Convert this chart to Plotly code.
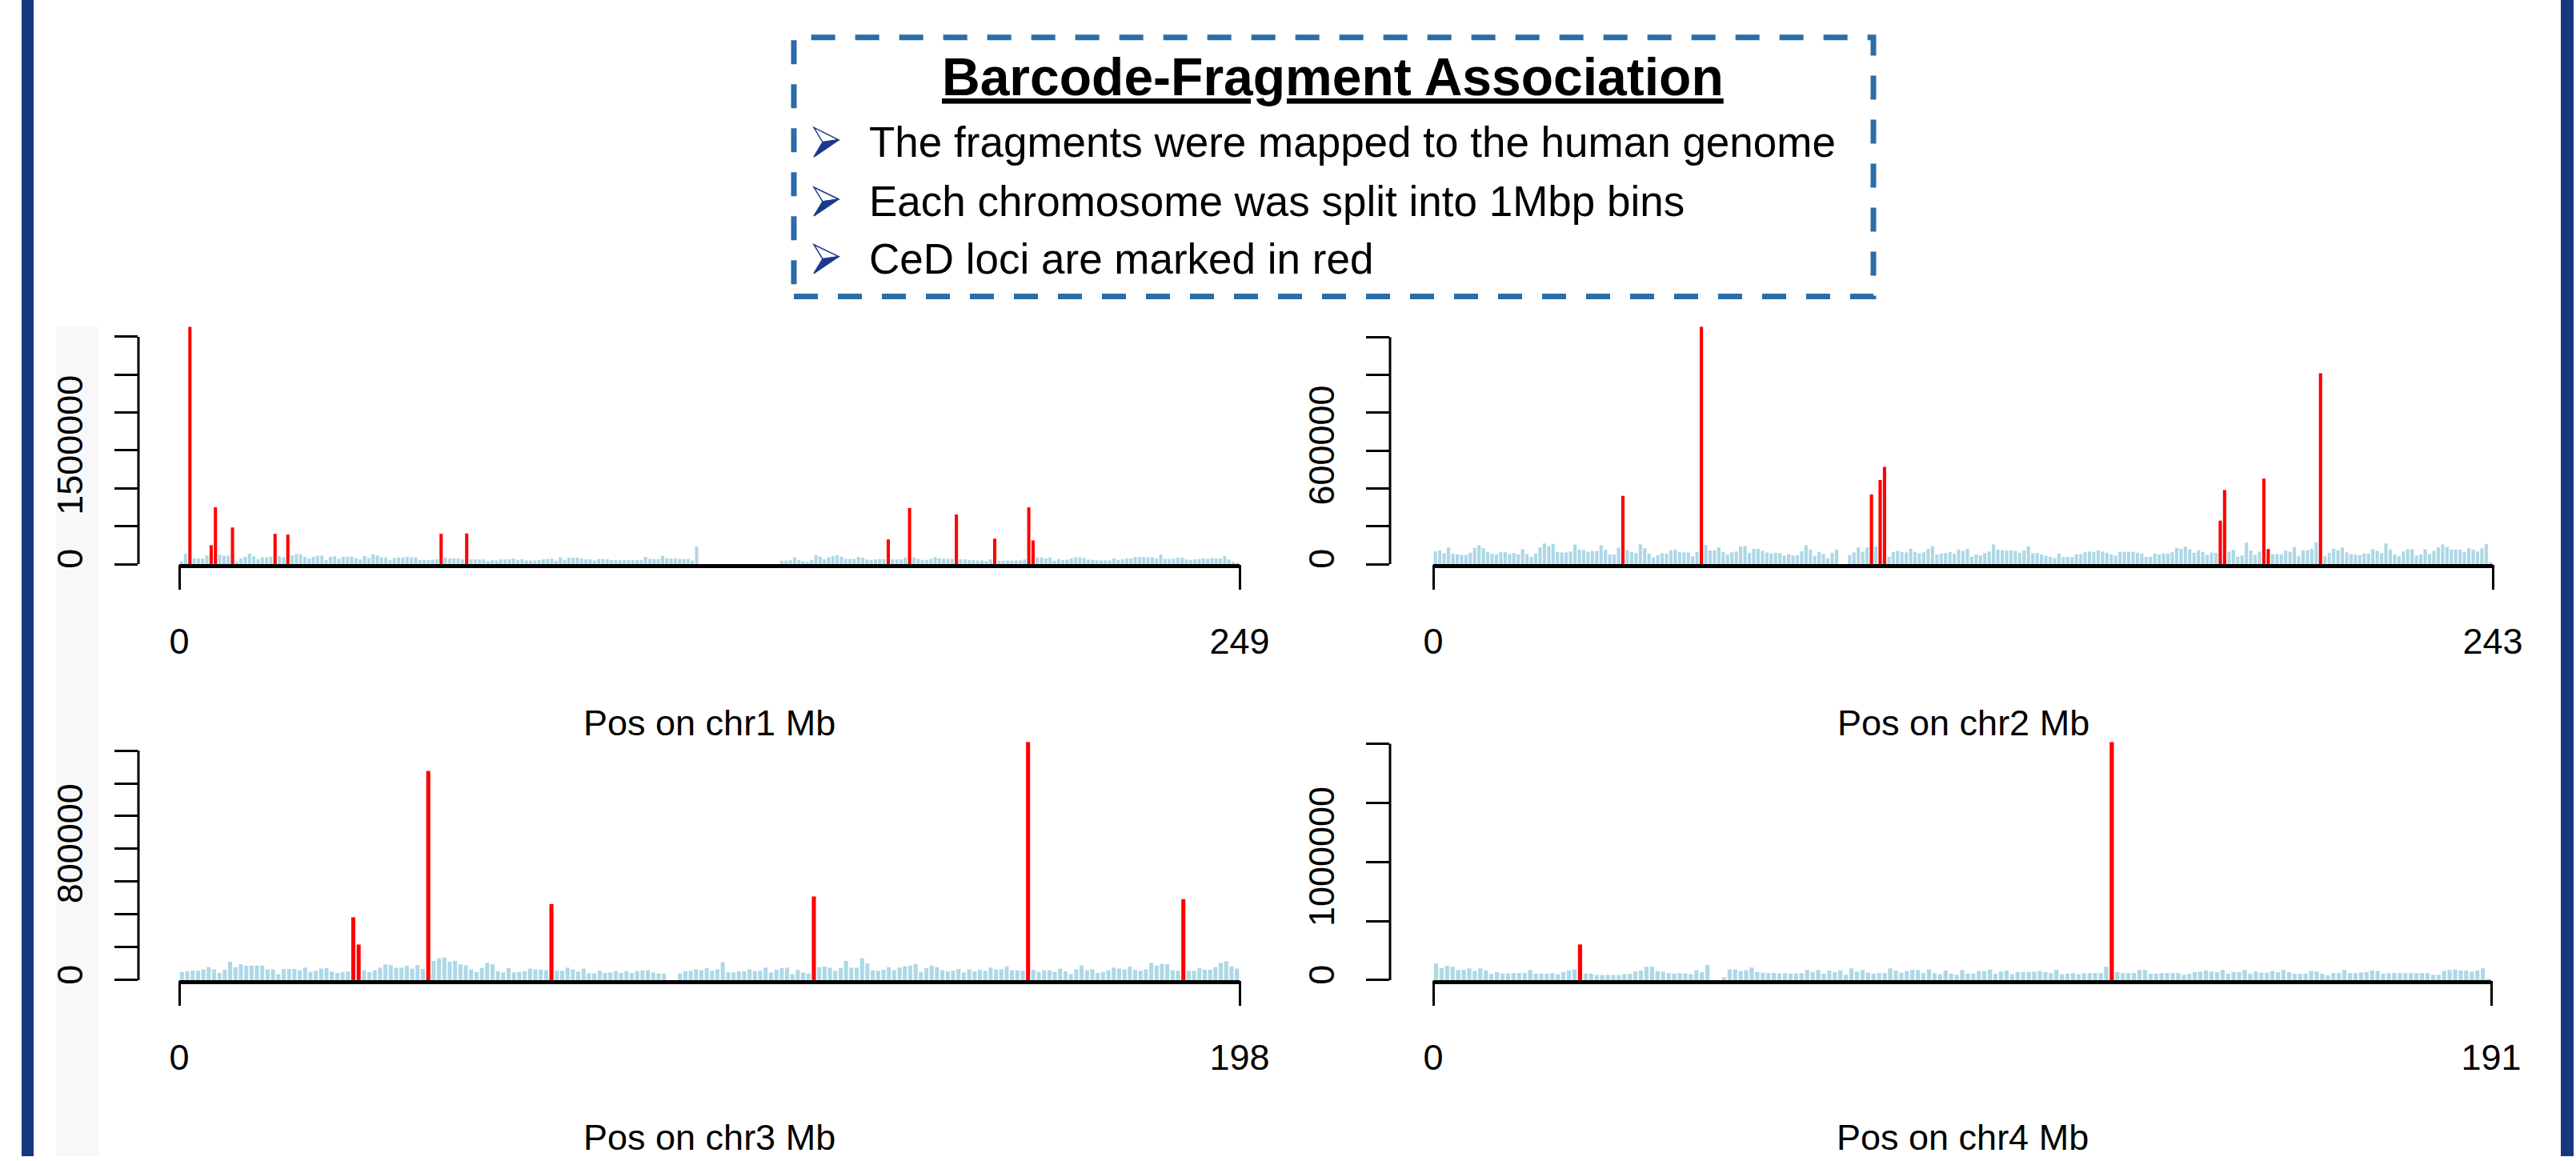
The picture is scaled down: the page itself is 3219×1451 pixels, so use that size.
import plotly.graph_objects as go

# ---------------- data (reads per 1 Mbp bin, in thousands) ----------------
chr1_counts_k = [
    35, 140, 3133, 74, 74, 74, 116, 250, 750, 126,
    112, 112, 484, 35, 74, 98, 140, 105, 63, 91,
    91, 98, 400, 105, 91, 390, 116, 133, 133, 98,
    74, 98, 112, 112, 53, 98, 105, 70, 98, 98,
    98, 81, 63, 109, 81, 130, 112, 91, 88, 53,
    81, 88, 88, 98, 91, 91, 53, 53, 53, 60,
    63, 400, 88, 74, 74, 74, 63, 405, 63, 63,
    63, 63, 42, 53, 49, 63, 63, 63, 74, 56,
    67, 49, 49, 49, 53, 63, 70, 70, 46, 91,
    56, 84, 84, 84, 74, 67, 63, 49, 67, 67,
    67, 53, 53, 53, 53, 53, 53, 53, 53, 95,
    70, 67, 67, 109, 77, 74, 74, 67, 67, 70,
    49, 232, 0, 0, 0, 0, 0, 0, 0, 0,
    0, 0, 0, 0, 0, 0, 0, 0, 0, 0,
    0, 46, 46, 53, 91, 53, 39, 28, 53, 119,
    98, 63, 91, 105, 119, 98, 70, 70, 70, 95,
    84, 63, 56, 63, 67, 67, 326, 63, 63, 63,
    88, 740, 88, 70, 56, 56, 70, 91, 77, 70,
    70, 70, 655, 63, 63, 53, 53, 49, 49, 42,
    63, 337, 46, 46, 46, 46, 49, 49, 63, 750,
    313, 88, 88, 77, 88, 46, 67, 53, 60, 77,
    91, 91, 81, 60, 56, 49, 49, 49, 49, 77,
    56, 67, 74, 77, 95, 95, 95, 91, 91, 74,
    126, 70, 70, 70, 88, 84, 63, 56, 63, 70,
    77, 70, 77, 77, 77, 105, 63, 28, 20,
]
chr2_counts_k = [
    67, 72, 58, 88, 56, 51, 49, 49, 60, 86,
    100, 84, 65, 55, 51, 63, 63, 53, 59, 51,
    79, 53, 39, 56, 88, 109, 95, 107, 65, 62,
    62, 67, 104, 77, 74, 65, 70, 70, 100, 76,
    51, 51, 87, 361, 74, 65, 59, 105, 84, 56,
    36, 48, 58, 56, 74, 77, 63, 62, 62, 42,
    63, 1255, 102, 73, 73, 88, 65, 51, 62, 67,
    93, 95, 60, 81, 81, 70, 62, 56, 59, 58,
    45, 53, 46, 48, 67, 100, 77, 44, 65, 53,
    31, 59, 77, 0, 0, 49, 62, 88, 65, 88,
    368, 93, 445, 514, 39, 65, 70, 63, 62, 81,
    65, 58, 63, 81, 95, 51, 56, 59, 65, 55,
    77, 70, 81, 39, 51, 46, 59, 67, 105, 76,
    74, 73, 72, 70, 60, 72, 95, 58, 60, 51,
    44, 39, 32, 56, 38, 38, 38, 53, 53, 63,
    67, 63, 73, 67, 60, 51, 45, 65, 65, 66,
    65, 60, 56, 39, 39, 56, 51, 56, 56, 63,
    86, 81, 93, 79, 60, 73, 65, 49, 62, 60,
    230, 392, 67, 76, 39, 46, 114, 72, 49, 66,
    452, 80, 53, 53, 52, 72, 66, 91, 42, 72,
    74, 81, 116, 1009, 42, 60, 81, 74, 88, 62,
    53, 51, 48, 56, 56, 79, 70, 59, 109, 77,
    51, 42, 67, 79, 79, 45, 51, 79, 53, 70,
    88, 104, 91, 77, 77, 77, 65, 84, 77, 67,
    84, 107, 10,
]
chr3_counts_k = [
    49, 54, 57, 57, 65, 79, 65, 44, 63, 112,
    79, 96, 88, 88, 88, 88, 65, 65, 36, 68,
    68, 68, 60, 76, 50, 57, 70, 73, 52, 44,
    49, 52, 383, 217, 60, 49, 60, 76, 96, 92,
    76, 76, 88, 70, 92, 68, 1276, 117, 133, 138,
    112, 118, 96, 89, 65, 49, 73, 105, 96, 55,
    47, 73, 47, 50, 54, 70, 65, 63, 60, 464,
    58, 58, 76, 65, 52, 70, 42, 42, 57, 44,
    47, 55, 44, 55, 44, 55, 60, 60, 47, 41,
    39, 0, 0, 41, 54, 57, 66, 60, 73, 57,
    66, 109, 47, 47, 54, 54, 66, 54, 57, 76,
    47, 63, 73, 76, 37, 63, 47, 41, 510, 79,
    83, 76, 57, 73, 117, 76, 76, 133, 101, 60,
    57, 63, 79, 60, 76, 84, 88, 99, 50, 73,
    89, 79, 60, 54, 57, 68, 47, 65, 54, 63,
    57, 76, 66, 66, 84, 60, 60, 57, 1453, 63,
    50, 60, 60, 50, 70, 54, 37, 66, 89, 60,
    66, 44, 50, 60, 76, 70, 66, 83, 63, 57,
    66, 105, 89, 99, 96, 60, 57, 494, 57, 57,
    73, 63, 63, 79, 105, 115, 84, 70,
]
chr4_counts_k = [
    140, 101, 122, 113, 86, 86, 99, 77, 99, 83,
    54, 68, 56, 56, 59, 59, 61, 86, 54, 54,
    54, 59, 50, 68, 81, 90, 302, 54, 54, 43,
    43, 43, 43, 43, 50, 54, 72, 81, 113, 113,
    77, 72, 59, 56, 59, 56, 50, 83, 68, 128,
    0, 0, 23, 90, 90, 77, 83, 106, 68, 63,
    59, 59, 56, 59, 56, 56, 59, 86, 68, 86,
    54, 81, 68, 81, 45, 99, 72, 86, 63, 54,
    59, 59, 99, 81, 63, 77, 86, 86, 59, 90,
    59, 50, 81, 54, 45, 86, 54, 54, 77, 77,
    90, 54, 72, 81, 50, 68, 68, 68, 72, 77,
    68, 59, 86, 50, 54, 59, 50, 59, 59, 59,
    59, 113, 2016, 68, 59, 59, 59, 86, 86, 54,
    54, 59, 59, 59, 59, 45, 54, 68, 72, 81,
    72, 68, 86, 54, 68, 68, 86, 54, 72, 63,
    63, 77, 68, 86, 68, 54, 54, 54, 77, 72,
    54, 41, 59, 59, 86, 59, 59, 63, 68, 81,
    77, 54, 59, 59, 59, 59, 59, 59, 59, 59,
    45, 45, 77, 86, 90, 81, 81, 72, 81, 99,
    11,
]

# CeD loci bins (drawn in red)
chr1_ced_bins = [2, 7, 8, 12, 22, 25, 61, 67, 166, 171, 182, 191, 199, 200]
chr2_ced_bins = [43, 61, 100, 102, 103, 180, 181, 190, 191, 203]
chr3_ced_bins = [32, 33, 46, 69, 118, 158, 187]
chr4_ced_bins = [26, 122]

chromosomes = ["chr1", "chr2", "chr3", "chr4"]
chr_lengths_mb = [249, 243, 198, 191]
y_tick_step = [500000, 200000, 200000, 500000]
y_tick_count = [7, 7, 8, 5]
y_labelled_tick = [1500000, 600000, 800000, 1000000]

title_text = "Barcode-Fragment Association"
bullet_lines = [
    "The fragments were mapped to the human genome",
    "Each chromosome was split into 1Mbp bins",
    "CeD loci are marked in red",
]

counts_k = [chr1_counts_k, chr2_counts_k, chr3_counts_k, chr4_counts_k]
ced_bins = [chr1_ced_bins, chr2_ced_bins, chr3_ced_bins, chr4_ced_bins]
for c, n in zip(counts_k, chr_lengths_mb):
    assert len(c) == n, (len(c), n)

# ---------------- layout geometry (pixels) ----------------
W, H = 3219, 1451
FONT = "Liberation Sans, Arial, Helvetica, sans-serif"
BLUE = "#ADD8E6"
RED = "#FF0000"


def px(xp):
    return xp / W


def py(yp):
    return 1 - yp / H


panels_px = [
    dict(axis=173, x0=224, x1=1549, right=1600, top=410, bottom=708, title_y=907),
    dict(axis=1737, x0=1791, x1=3115, right=3167, top=410, bottom=708, title_y=907),
    dict(axis=173, x0=224, x1=1549, right=1600, top=931, bottom=1230, title_y=1427),
    dict(axis=1737, x0=1791, x1=3113, right=3165, top=931, bottom=1230, title_y=1427),
]

fig = go.Figure()
shapes = []
annotations = []
layout_axes = {}

for i, (name, n, vals_k, red, g) in enumerate(
        zip(chromosomes, chr_lengths_mb, counts_k, ced_bins, panels_px)):
    s = "" if i == 0 else str(i + 1)
    values = [v * 1000 for v in vals_k]
    centers = [b + 0.5 for b in range(n)]
    colors = [RED if b in red else BLUE for b in range(n)]
    fig.add_trace(go.Bar(
        x=centers, y=values, width=0.76,
        marker=dict(color=colors, line=dict(width=0)),
        xaxis="x" + s, yaxis="y" + s, showlegend=False, hoverinfo="x+y",
    ))
    span = g["x1"] - g["x0"]
    xr = [(g["axis"] - g["x0"]) / span * n, (g["right"] - g["x0"]) / span * n]
    tickvals = [j * y_tick_step[i] for j in range(y_tick_count[i])]
    ticktext = [("0" if v == 0 else (str(v) if v == y_labelled_tick[i] else ""))
                for v in tickvals]
    layout_axes["xaxis" + s] = dict(
        domain=[px(g["axis"]), px(g["right"])], range=xr, anchor="y" + s,
        showgrid=False, zeroline=False, showline=False,
        tickmode="array", tickvals=[0, n], ticktext=["0", str(n)],
        ticks="outside", ticklen=31, tickwidth=3, tickcolor="black",
        tickfont=dict(size=45, color="black", family=FONT),
        ticklabelstandoff=26,
    )
    layout_axes["yaxis" + s] = dict(
        domain=[py(g["bottom"]), py(g["top"])], range=[0, max(values)],
        anchor="x" + s,
        showgrid=False, zeroline=False, showline=False,
        tickmode="array", tickvals=tickvals, ticktext=ticktext,
        ticks="outside", ticklen=29, tickwidth=3, tickcolor="black",
        tickangle=-90,
        tickfont=dict(size=45, color="black", family=FONT),
        ticklabelstandoff=22,
    )
    # partial y axis line (0 .. top tick), as in R
    shapes.append(dict(type="line", xref="x%s domain" % s, yref="y" + s,
                       x0=0, x1=0, y0=0, y1=tickvals[-1],
                       line=dict(color="black", width=3)))
    # thick baseline from 0 to chromosome length
    off = -2.5 / (g["bottom"] - g["top"])
    shapes.append(dict(type="line", xref="x" + s, yref="y%s domain" % s,
                       x0=0, x1=n, y0=off, y1=off,
                       line=dict(color="black", width=5)))
    annotations.append(dict(
        text="Pos on %s Mb" % name, xref="x" + s, yref="paper",
        x=n / 2, y=py(g["title_y"]), xanchor="center", yanchor="middle",
        showarrow=False, font=dict(size=45, color="black", family=FONT)))

# ---------------- decorations ----------------
FRAME_BLUE = "#17377F"
shapes += [
    dict(type="rect", xref="paper", yref="paper", x0=px(27), x1=px(42),
         y0=0, y1=1, fillcolor=FRAME_BLUE, line=dict(width=0), layer="below"),
    dict(type="rect", xref="paper", yref="paper", x0=px(3200), x1=px(3216),
         y0=0, y1=1, fillcolor=FRAME_BLUE, line=dict(width=0), layer="below"),
    dict(type="rect", xref="paper", yref="paper", x0=px(70), x1=px(123),
         y0=0, y1=py(410), fillcolor="#F8F8F8", line=dict(width=0), layer="below"),
    dict(type="rect", xref="paper", yref="paper", x0=px(992), x1=px(2341),
         y0=py(372), y1=py(47), fillcolor="rgba(0,0,0,0)",
         line=dict(color="#2C6DA8", width=7, dash="30px,25px")),
]

annotations.append(dict(
    text="<b><u>%s</u></b>" % title_text, xref="paper", yref="paper",
    x=px(1666), y=py(96), xanchor="center", yanchor="middle", showarrow=False,
    font=dict(size=66, color="black", family=FONT)))

ARROW_BLUE = "#1A3A8C"
cap_tops = [160, 235, 307]
cap_bottoms = [197, 271, 343]
for line, t, b in zip(bullet_lines, cap_tops, cap_bottoms):
    mid = (t + b) / 2
    annotations.append(dict(
        text=line, xref="paper", yref="paper", x=px(1084), y=py(mid),
        xanchor="left", yanchor="middle", showarrow=False,
        font=dict(size=53, color="black", family=FONT)))
    L, R, N = 1017, 1048, 1028
    upper = "M %f %f L %f %f L %f %f Z" % (px(L), py(t), px(R), py(mid - 3), px(N), py(mid))
    lower = "M %f %f L %f %f L %f %f Z" % (px(N), py(mid), px(R), py(mid - 3), px(L), py(b))
    shapes.append(dict(type="path", xref="paper", yref="paper", path=upper,
                       fillcolor="white", line=dict(color=ARROW_BLUE, width=1.5)))
    shapes.append(dict(type="path", xref="paper", yref="paper", path=lower,
                       fillcolor=ARROW_BLUE, line=dict(color=ARROW_BLUE, width=1.5)))

fig.update_layout(
    width=W, height=H, margin=dict(l=0, r=0, t=0, b=0, pad=0),
    paper_bgcolor="white", plot_bgcolor="rgba(0,0,0,0)",
    shapes=shapes, annotations=annotations, showlegend=False,
    font=dict(family=FONT, color="black"),
    **layout_axes,
)

fig.write_html(
    "out.html",
    config={"displayModeBar": False},
    post_script="document.body.style.margin='0';"
                "document.body.style.padding='0';"
                "document.body.style.overflow='hidden';",
)
